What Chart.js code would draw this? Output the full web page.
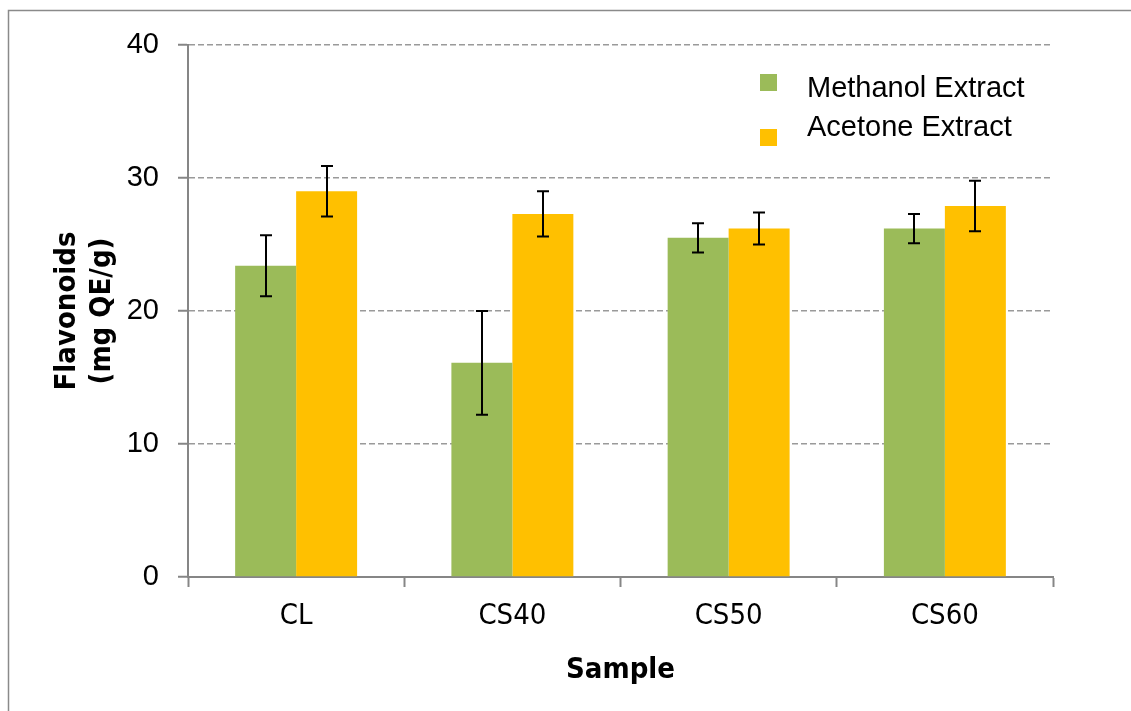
<!DOCTYPE html>
<html>
<head>
<meta charset="utf-8">
<title>Flavonoids</title>
<script src="https://cdn.jsdelivr.net/npm/chart.js@4.4.1/dist/chart.umd.min.js"></script>
<style>
    html, body { margin: 0; padding: 0; background: #ffffff; }
    #chart { display: block; }
</style>
</head>
<body>
<canvas id="chart" width="1131" height="711"></canvas>
<script>
/* ============================================================
   DATA
   ============================================================ */
const samples = ['CL', 'CS40', 'CS50', 'CS60'];
const methanolValues = [23.4, 16.1, 25.5, 26.2];
const methanolErrors = [2.3, 3.9, 1.1, 1.1];
const acetoneValues = [29.0, 27.3, 26.2, 27.9];
const acetoneErrors = [1.9, 1.7, 1.2, 1.9];
const yTicks = [0, 10, 20, 30, 40];

const GREEN = '#9BBB59';
const ORANGE = '#FFC000';
const AXIS_GREY = '#868686';

// ============================================================
// PLUGINS
// ============================================================

// outer frame (only left and top edges show in the picture)
const framePlugin = {
    id: 'frame',
    beforeDraw(chart) {
        const ctx = chart.ctx;
        ctx.save();
        ctx.strokeStyle = '#8a8a8a';
        ctx.lineWidth = 1.5;
        ctx.beginPath();
        ctx.moveTo(8.5, 711);
        ctx.lineTo(8.5, 10.5);
        ctx.lineTo(1131, 10.5);
        ctx.stroke();
        ctx.restore();
    }
};

// error bars from the error arrays
const errorBarPlugin = {
    id: 'errorBars',
    afterDatasetsDraw(chart) {
        const ctx = chart.ctx;
        const yScale = chart.scales.y;
        ctx.save();
        ctx.strokeStyle = '#000000';
        ctx.lineWidth = 2;
        chart.data.datasets.forEach((ds, i) => {
            const meta = chart.getDatasetMeta(i);
            meta.data.forEach((bar, j) => {
                const v = ds.data[j];
                const e = ds.errors[j];
                const yTop = yScale.getPixelForValue(v + e);
                const yBot = yScale.getPixelForValue(v - e);
                const x = Math.round(bar.x);
                ctx.beginPath();
                ctx.moveTo(x, yTop);
                ctx.lineTo(x, yBot);
                ctx.moveTo(x - 6, yTop);
                ctx.lineTo(x + 6, yTop);
                ctx.moveTo(x - 6, yBot);
                ctx.lineTo(x + 6, yBot);
                ctx.stroke();
            });
        });
        ctx.restore();
    }
};

// legend inside the plot, top right
const insideLegendPlugin = {
    id: 'insideLegend',
    afterDraw(chart) {
        const ctx = chart.ctx;
        const rows = [
            { box: 74, text: 89 },
            { box: 129, text: 128 }
        ];
        ctx.save();
        ctx.font = '29px "Liberation Sans", Arial, sans-serif';
        ctx.textBaseline = 'middle';
        ctx.textAlign = 'left';
        chart.data.datasets.forEach((ds, i) => {
            ctx.fillStyle = ds.backgroundColor;
            ctx.fillRect(760, rows[i].box, 17, 17);
            ctx.fillStyle = '#000000';
            ctx.fillText(ds.label, 807, rows[i].text);
        });
        ctx.restore();
    }
};

// ============================================================
// CHART
// ============================================================
function initChart() {
    const ctx = document.getElementById('chart');

    new Chart(ctx, {
        type: 'bar',
        data: {
            labels: samples,
            datasets: [{
                label: 'Methanol Extract',
                data: methanolValues,
                errors: methanolErrors,
                backgroundColor: GREEN,
                borderWidth: 0,
                categoryPercentage: 0.564,
                barPercentage: 1.0
            }, {
                label: 'Acetone Extract',
                data: acetoneValues,
                errors: acetoneErrors,
                backgroundColor: ORANGE,
                borderWidth: 0,
                categoryPercentage: 0.564,
                barPercentage: 1.0
            }]
        },
        options: {
            responsive: false,
            animation: false,
            devicePixelRatio: 1,
            layout: {
                padding: { left: 0, top: 45, right: 78, bottom: 0 }
            },
            plugins: {
                legend: { display: false },
                tooltip: { enabled: false }
            },
            scales: {
                x: {
                    afterFit: function(scale) { scale.height = 134; },
                    grid: {
                        drawOnChartArea: false,
                        drawTicks: true,
                        tickLength: 10,
                        tickColor: AXIS_GREY,
                        tickWidth: 2,
                        color: AXIS_GREY
                    },
                    border: { display: true, color: AXIS_GREY, width: 2 },
                    ticks: {
                        color: '#000000',
                        padding: 12,
                        font: { family: '"DejaVu Sans Condensed", "DejaVu Sans", sans-serif', size: 29 }
                    },
                    title: {
                        display: true,
                        text: 'Sample',
                        color: '#000000',
                        padding: { top: 0, bottom: 23 },
                        font: { family: '"DejaVu Sans Condensed", "DejaVu Sans", sans-serif', size: 29, weight: 'bold' }
                    }
                },
                y: {
                    min: 0,
                    max: 40,
                    afterFit: function(scale) { scale.width = 188; },
                    afterBuildTicks: function(scale) {
                        scale.ticks = yTicks.map(v => ({ value: v }));
                    },
                    grid: {
                        color: '#9a9a9a',
                        lineWidth: 1.5,
                        drawTicks: true,
                        tickLength: 10,
                        tickColor: AXIS_GREY,
                        tickWidth: 2
                    },
                    border: { display: true, color: AXIS_GREY, width: 2, dash: [6, 3] },
                    ticks: {
                        color: '#000000',
                        padding: 19,
                        font: { family: '"Liberation Sans", Arial, sans-serif', size: 29 }
                    },
                    title: {
                        display: true,
                        text: ['Flavonoids', '(mg QE/g)'],
                        color: '#000000',
                        padding: { top: 50, bottom: 0 },
                        font: { family: '"DejaVu Sans Condensed", "DejaVu Sans", sans-serif', size: 29, weight: 'bold' }
                    }
                }
            }
        },
        plugins: [framePlugin, errorBarPlugin, insideLegendPlugin]
    });
}

document.addEventListener('DOMContentLoaded', function() {
    initChart();
});
</script>
</body>
</html>
